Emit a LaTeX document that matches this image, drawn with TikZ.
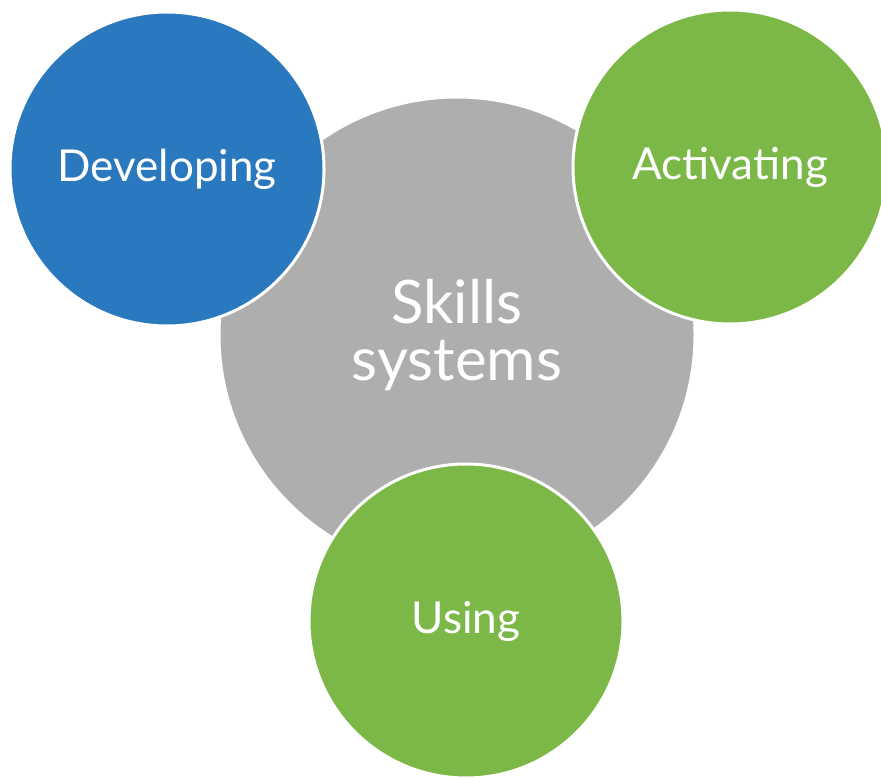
\documentclass[tikz,border=0pt]{standalone}
\usepackage{fontspec}
\setmainfont{Lato}
\definecolor{cblue}{HTML}{2A79BF}
\definecolor{cgreen}{HTML}{7CB848}
\definecolor{cgray}{HTML}{AEAEAE}
\begin{document}
\begin{tikzpicture}[x=1pt,y=-1pt,
  disc/.style={circle,draw=white,line width=3pt,inner sep=0pt,text=white,align=center},
  small/.style={disc,minimum size=314pt,font=\fontsize{44}{48}\selectfont},
  big/.style={disc,minimum size=476pt,font=\fontsize{60}{57}\selectfont}]
\fill[white] (0,0) rectangle (881,778);
\useasboundingbox (0,0) rectangle (881,778);
\node[big,fill=cgray] (core) at (457,335) {Skills\\systems};
\node[small,fill=cblue] (dev) at (167,169) {Developing};
\node[small,fill=cgreen] (act) at (730,167) {\raisebox{-4pt}{Activating}};
\node[small,fill=cgreen] (use) at (466,621) {\raisebox{-5pt}{Using}};
\end{tikzpicture}
\end{document}
